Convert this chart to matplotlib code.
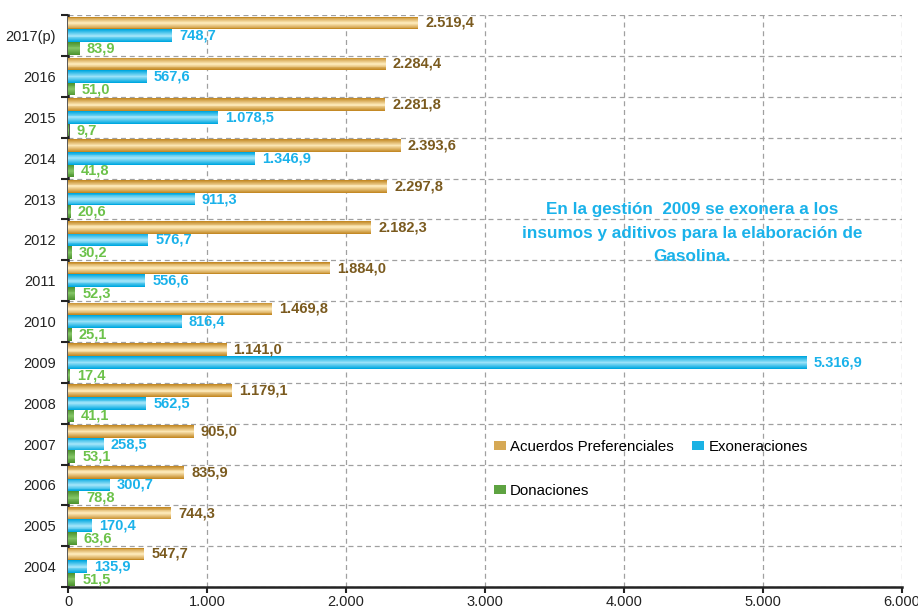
import numpy as np
import matplotlib
matplotlib.use("Agg")
from matplotlib import pyplot as plt
from matplotlib.colors import to_rgb
from matplotlib.patches import Patch

# data (millions)
years = ["2004", "2005", "2006", "2007", "2008", "2009", "2010",
         "2011", "2012", "2013", "2014", "2015", "2016", "2017(p)"]
acuerdos = [547.7, 744.3, 835.9, 905.0, 1179.1, 1141.0, 1469.8,
            1884.0, 2182.3, 2297.8, 2393.6, 2281.8, 2284.4, 2519.4]
exoneraciones = [135.9, 170.4, 300.7, 258.5, 562.5, 5316.9, 816.4,
                 556.6, 576.7, 911.3, 1346.9, 1078.5, 567.6, 748.7]
donaciones = [51.5, 63.6, 78.8, 53.1, 41.1, 17.4, 25.1,
              52.3, 30.2, 20.6, 41.8, 9.7, 51.0, 83.9]
x_ticks = [0, 1000, 2000, 3000, 4000, 5000, 6000]

plt.rcParams['font.family'] = ['Liberation Sans', 'DejaVu Sans']


def fmt(v):
    # 1234.5 -> 1.234,5
    s = f"{v:,.1f}"
    return s.replace(",", "X").replace(".", ",").replace("X", ".")


def ramp(dark, light, n=7):
    a, b = np.array(to_rgb(dark)), np.array(to_rgb(light))
    return [tuple(a + (b - a) * t) for t in np.linspace(0, 1, n)]


def shaded_bar(ax, y, w, h, colors):
    # fake cylinder gradient by stacking thinner, lighter bars
    n = len(colors)
    for k, c in enumerate(colors):
        ax.barh(y, w, height=h * (1 - k / n), color=c, edgecolor="none", zorder=3 + k)


gold = ramp("#c48a26", "#fbe6b4")
cyan = ramp("#00a8e0", "#9ae2f8")
green = ramp("#4d9430", "#80c262")

fig = plt.figure(figsize=(9.18, 6.09), dpi=100)
ax = fig.add_axes([0.0741, 0.036, 0.9085, 0.939])

y = np.arange(len(years))
h = 0.31
lbl = dict(va="center", ha="left", fontsize=10.5, fontweight="bold", zorder=20)
for i in range(len(years)):
    shaded_bar(ax, y[i] + h, acuerdos[i], h, gold)
    shaded_bar(ax, y[i], exoneraciones[i], h, cyan)
    shaded_bar(ax, y[i] - h, donaciones[i], h, green)
    ax.text(acuerdos[i] + 50, y[i] + h, fmt(acuerdos[i]), color="#7a5a1e", **lbl)
    ax.text(exoneraciones[i] + 50, y[i], fmt(exoneraciones[i]), color="#1ab2ea", **lbl)
    ax.text(donaciones[i] + 50, y[i] - h, fmt(donaciones[i]), color="#6cc24a", **lbl)

ax.set_xlim(0, 6000)
ax.set_ylim(-0.5, len(years) - 0.5)
ax.set_xticks(x_ticks)
ax.set_xticklabels([fmt(v)[:-2] if v else "0" for v in x_ticks], fontsize=10.5, color="#222222")
ax.set_yticks(y)
ax.set_yticklabels(years, fontsize=10.5, color="#222222")
ax.tick_params(axis="y", length=0, pad=9)
ax.set_yticks(np.arange(-0.5, len(years)), minor=True)
ax.tick_params(axis="y", which="minor", length=5, width=1.5, color="#222222")
ax.tick_params(axis="x", length=4, width=1.5, color="#222222", pad=1.5)

ax.grid(axis="x", which="major", color="#a0a0a0", linestyle=(0, (4, 3)), linewidth=0.9, zorder=0)
ax.grid(axis="y", which="minor", color="#a0a0a0", linestyle=(0, (4, 3)), linewidth=0.9, zorder=0)
ax.set_axisbelow(True)
for side in ["top", "right"]:
    ax.spines[side].set_visible(False)
for side in ["left", "bottom"]:
    ax.spines[side].set_linewidth(1.8)
    ax.spines[side].set_color("#222222")

ax.text(0.748, 0.619, "En la gestión  2009 se exonera a los\ninsumos y aditivos para la elaboración de\nGasolina.",
        transform=ax.transAxes, ha="center", va="center", color="#1ab2ea",
        fontsize=12.3, fontweight="bold", linespacing=1.7)

handles = [Patch(facecolor=gold[2]), Patch(facecolor=green[2]), Patch(facecolor=cyan[1])]
labels = ["Acuerdos Preferenciales", "Donaciones", "Exoneraciones"]
ax.legend(handles, labels, ncol=2, frameon=False, loc="upper left",
          bbox_to_anchor=(0.494, 0.281), fontsize=10.8, handlelength=0.8, handleheight=0.6,
          handletextpad=0.3, columnspacing=1.2, labelspacing=2.0)

fig.savefig("out.png", dpi=100)
